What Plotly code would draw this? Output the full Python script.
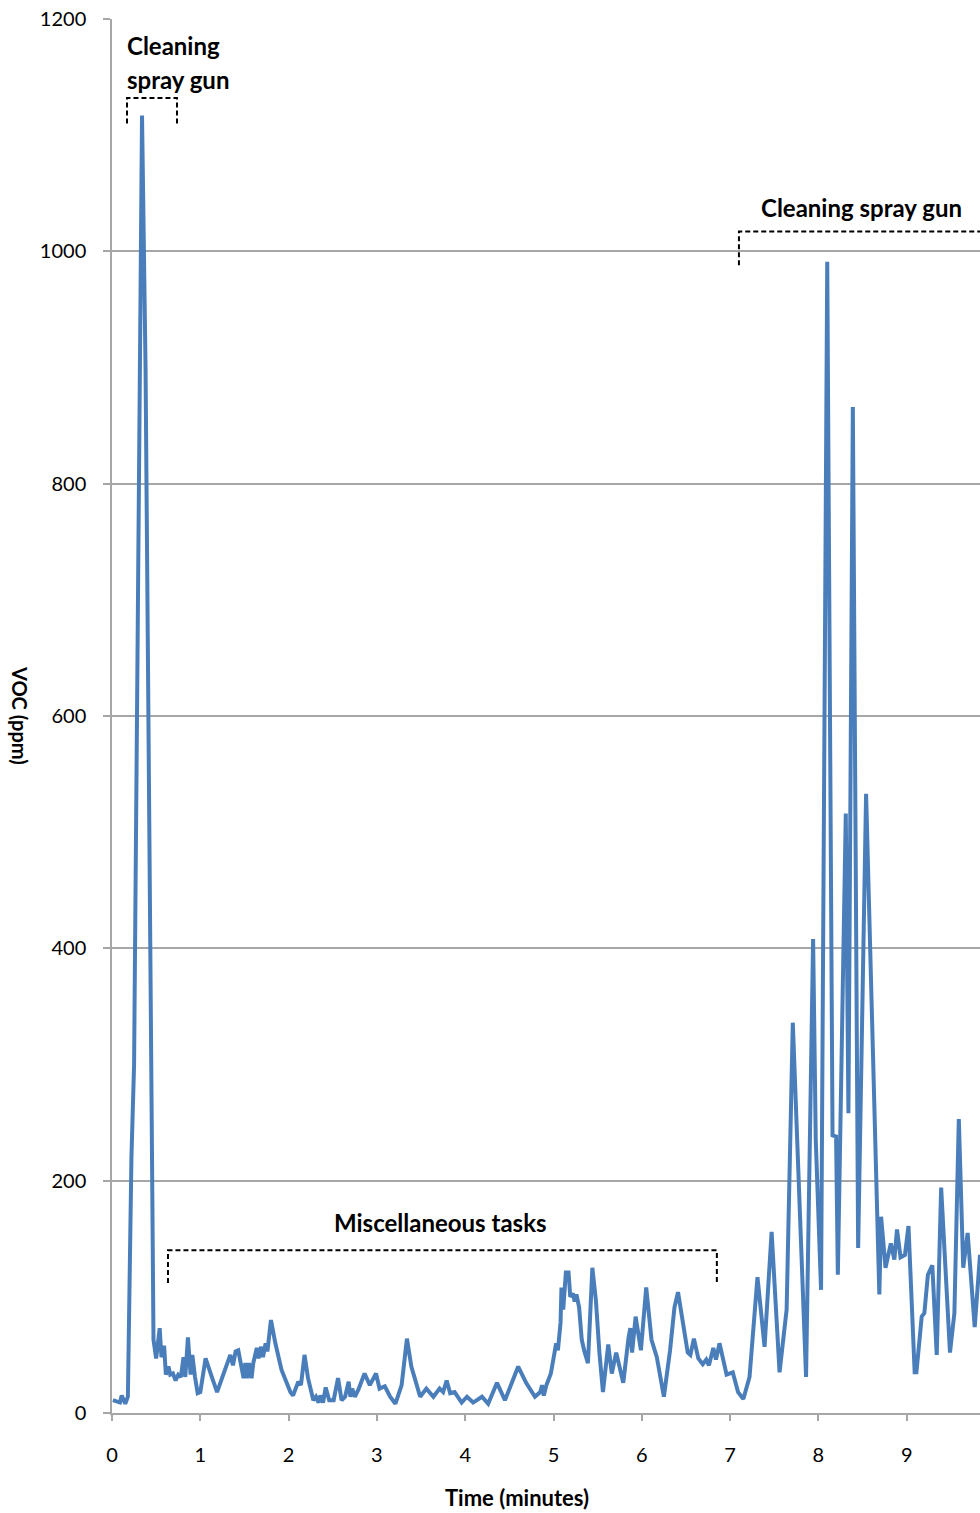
import plotly.graph_objects as go

# VOC concentration log (minutes, ppm)
time_min = [
    0.01, 0.05, 0.09, 0.11, 0.15, 0.18, 0.20, 0.22, 0.25, 0.30, 0.34, 0.38, 0.41, 0.44,
    0.47, 0.50, 0.54, 0.56, 0.59, 0.61, 0.64, 0.66, 0.69, 0.72, 0.75, 0.78, 0.81, 0.83,
    0.86, 0.89, 0.91, 0.94, 0.97, 1.00, 1.06, 1.13, 1.19, 1.26, 1.34, 1.37, 1.40, 1.43,
    1.47, 1.49, 1.51, 1.53, 1.55, 1.58, 1.60, 1.64, 1.66, 1.69, 1.71, 1.74, 1.76, 1.80,
    1.85, 1.92, 2.02, 2.05, 2.11, 2.14, 2.18, 2.22, 2.28, 2.31, 2.34, 2.36, 2.39, 2.42,
    2.46, 2.51, 2.56, 2.60, 2.64, 2.68, 2.70, 2.72, 2.75, 2.79, 2.86, 2.92, 2.99, 3.03,
    3.09, 3.15, 3.21, 3.28, 3.34, 3.39, 3.49, 3.56, 3.64, 3.71, 3.75, 3.79, 3.83, 3.88,
    3.96, 4.02, 4.09, 4.19, 4.26, 4.36, 4.45, 4.60, 4.69, 4.79, 4.85, 4.87, 4.89, 4.92,
    4.97, 5.00, 5.03, 5.05, 5.08, 5.09, 5.11, 5.14, 5.17, 5.19, 5.22, 5.24, 5.26, 5.29,
    5.32, 5.35, 5.39, 5.44, 5.48, 5.52, 5.56, 5.62, 5.66, 5.71, 5.79, 5.85, 5.87, 5.89,
    5.93, 5.99, 6.05, 6.11, 6.17, 6.25, 6.32, 6.37, 6.41, 6.52, 6.55, 6.59, 6.64, 6.69,
    6.73, 6.76, 6.81, 6.84, 6.88, 6.96, 7.03, 7.09, 7.15, 7.22, 7.31, 7.39, 7.47, 7.56,
    7.64, 7.71, 7.85, 7.86, 7.94, 7.97, 8.03, 8.10, 8.16, 8.20, 8.22, 8.31, 8.34, 8.39,
    8.45, 8.54, 8.69, 8.71, 8.76, 8.82, 8.86, 8.89, 8.93, 8.98, 9.02, 9.09, 9.11, 9.17,
    9.20, 9.24, 9.29, 9.34, 9.39, 9.49, 9.54, 9.59, 9.64, 9.69, 9.77, 9.83, 9.88,
]
voc_ppm = [
    11, 10, 9, 15, 8, 14, 100, 220, 300, 800, 1117, 900, 620, 250,
    63, 47, 73, 48, 58, 33, 40, 33, 34, 28, 33, 31, 48, 31,
    65, 33, 50, 31, 17, 18, 47, 31, 18, 33, 50, 41, 53, 54,
    39, 30, 43, 30, 43, 30, 43, 56, 47, 57, 48, 60, 53, 80,
    60, 37, 18, 15, 27, 24, 50, 30, 11, 14, 9, 15, 9, 22,
    11, 11, 30, 11, 14, 27, 14, 21, 14, 20, 34, 24, 34, 21,
    23, 14, 8, 24, 64, 40, 14, 21, 14, 21, 18, 28, 17, 18,
    9, 14, 9, 14, 8, 26, 11, 40, 26, 14, 18, 24, 15, 24,
    34, 47, 60, 54, 78, 108, 89, 121, 121, 100, 103, 96, 102, 91,
    63, 53, 43, 125, 97, 52, 18, 59, 34, 52, 26, 65, 73, 52,
    83, 54, 108, 63, 48, 14, 54, 91, 104, 52, 50, 64, 47, 42,
    46, 41, 56, 46, 60, 33, 35, 18, 12, 31, 117, 57, 156, 35,
    89, 336, 33, 31, 408, 235, 106, 991, 239, 238, 119, 516, 258, 866,
    142, 533, 102, 169, 125, 146, 132, 158, 134, 136, 161, 35, 35, 83,
    86, 119, 127, 50, 194, 52, 86, 253, 125, 155, 74, 136, 120,
]

y_ticks = [0, 200, 400, 600, 800, 1000, 1200]
x_ticks = [0, 1, 2, 3, 4, 5, 6, 7, 8, 9]

FONT = "Lato"
GRID = "#a6a6a6"
DASH = "5px,3px"

fig = go.Figure()
fig.add_trace(go.Scatter(
    x=time_min, y=voc_ppm, mode="lines",
    line=dict(color="#4a7ebb", width=4),
    showlegend=False, hoverinfo="x+y",
))


def bracket(x0, x1, y_top, y_bottom, right_open=False):
    if right_open:
        path = f"M {x0},{y_bottom} L {x0},{y_top} L {x1},{y_top}"
    else:
        path = f"M {x0},{y_bottom} L {x0},{y_top} L {x1},{y_top} L {x1},{y_bottom}"
    return dict(type="path", xref="x", yref="y", path=path,
                line=dict(color="black", width=2, dash=DASH))


shapes = [
    bracket(0.17, 0.736, 1132, 1110),
    bracket(0.634, 6.85, 140, 112),
    bracket(7.10, 9.9, 1017, 988, right_open=True),
]

label_font = dict(family=FONT, size=24, color="black")
annotations = [
    dict(x=0.147, y=1177, xref="x", yref="y", text="<b>Cleaning</b>",
         xanchor="left", yanchor="middle", showarrow=False, font=label_font),
    dict(x=0.147, y=1148, xref="x", yref="y", text="<b>spray gun</b>",
         xanchor="left", yanchor="middle", showarrow=False, font=label_font),
    dict(x=8.485, y=1038, xref="x", yref="y", text="<b>Cleaning spray gun</b>",
         xanchor="center", yanchor="middle", showarrow=False, font=label_font),
    dict(x=3.725, y=164, xref="x", yref="y", text="<b>Miscellaneous tasks</b>",
         xanchor="center", yanchor="middle", showarrow=False, font=label_font),
    dict(x=-0.106, y=0.5, xref="paper", yref="paper", text="<b>VOC (ppm)</b>",
         textangle=90, xanchor="center", yanchor="middle", showarrow=False,
         font=dict(family=FONT, size=20, color="black")),
    dict(x=0.4666, y=-0.0603, xref="paper", yref="paper", text="<b>Time (minutes)</b>",
         xanchor="center", yanchor="middle", showarrow=False,
         font=dict(family=FONT, size=22, color="black")),
]

fig.update_layout(
    width=980, height=1513,
    margin=dict(l=112, r=0, t=19, b=100),
    paper_bgcolor="white", plot_bgcolor="white",
    font=dict(family=FONT, color="black"),
    shapes=shapes, annotations=annotations,
    xaxis=dict(
        range=[0, 9.83], tickmode="array", tickvals=x_ticks,
        ticktext=[str(v) for v in x_ticks],
        showgrid=False, zeroline=False,
        showline=True, linecolor=GRID, linewidth=1.5,
        ticks="outside", ticklen=6, tickcolor=GRID, tickwidth=1.5,
        tickfont=dict(family=FONT, size=20, color="black"),
        ticklabelstandoff=17,
    ),
    yaxis=dict(
        range=[0, 1200], tickmode="array", tickvals=y_ticks,
        ticktext=[str(v) for v in y_ticks],
        showgrid=True, gridcolor=GRID, gridwidth=1.5, zeroline=False,
        showline=True, linecolor=GRID, linewidth=1.5,
        ticks="outside", ticklen=7, tickcolor=GRID, tickwidth=1.5,
        tickfont=dict(family=FONT, size=20, color="black"),
        ticklabelstandoff=13,
    ),
)

fig.write_html("out.html")
